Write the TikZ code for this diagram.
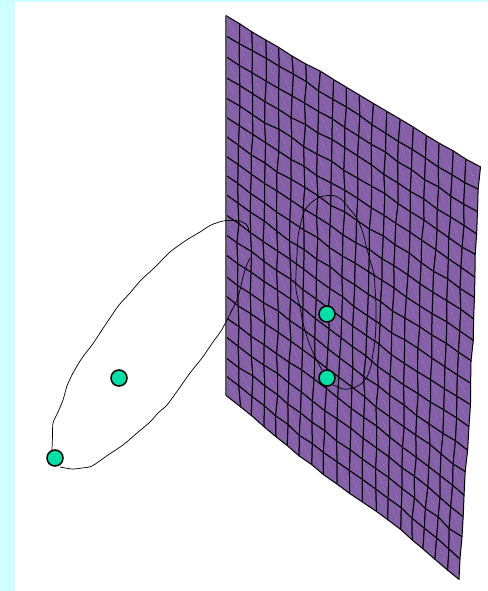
\documentclass[tikz,border=0pt]{standalone}
\usepackage{tikz}
\definecolor{pagecyan}{RGB}{204, 255, 255}
\definecolor{sheetpurple}{RGB}{133, 96, 168}
\definecolor{markgreen}{RGB}{0, 224, 168}

\begin{document}
\begin{tikzpicture}[
  x=1pt, y=-1pt,
  cell/.style={draw=black, line width=1pt, line join=round, fill=sheetpurple},
  crease/.style={draw=white, opacity=0.4, line width=0.5pt, dotted},
  loopline/.style={draw=black, line width=0.7pt},
  markpt/.style={circle, draw=black, fill=markgreen, line width=1.5pt, minimum size=16pt, inner sep=0pt}
]
  % page
  \fill[pagecyan] (0, 0) rectangle (487, 591);
  \fill[white] (15, 2) rectangle (487, 591);

  % sheet corners (226,16) (480,167) (226,396) (461,580)
  \pgfmathsetseed{4127}
  \foreach \r in {0,...,19} {
    \foreach \c in {0,...,19} {
      \pgfmathsetmacro{\u}{\c/19}
      \pgfmathsetmacro{\v}{\r/19}
      \pgfmathsetmacro{\ax}{\c==0 ? 0 : 0.9}
      \pgfmathsetmacro{\ay}{\r==0 ? 0.5 : 1.0}
      \pgfmathsetmacro{\wx}{\c==0 ? 0 : 1.5*sin(610*\u + 410*\v)*\v}
      \pgfmathsetmacro{\wy}{\r==0 ? 0 : 1.6*sin(540*\v - 350*\u)}
      \pgfmathsetmacro{\px}{226 + (254 - 19*\v)*\u + \wx + \ax*rand}
      \pgfmathsetmacro{\py}{16 + 380*\v + (151 + 33*\v)*\u + \wy + \ay*rand}
      \coordinate (p\r-\c) at (\px, \py);
    }
  }

  \foreach \r [evaluate=\r as \rn using int(\r+1)] in {0,...,18} {
    \foreach \c [evaluate=\c as \cn using int(\c+1)] in {0,...,18} {
      \path[cell] (p\r-\c) -- (p\r-\cn) -- (p\rn-\cn) -- (p\rn-\c) -- cycle;
      \path[crease] (p\r-\c) -- (p\rn-\cn);
    }
  }
  \draw[black!65, line width=1.2pt] (p0-0) -- (p19-0);

  % loop beside the sheet
  \path[loopline] plot[smooth, tension=0.45] coordinates {
    (52,450) (52.5,436) (53,423) (58,412) (63,400) (67,386) (73,373) (82,358) (92,345)
    (100,333) (110,318) (119,305) (130,293) (141,280) (152,270) (161,261) (170,252)
    (185,241) (200,232) (211,225) (223,221) (232,220.5) (240,221) (246,224) (248,227) (249,233)};
  \path[loopline] plot[smooth, tension=0.45] coordinates {
    (250,258) (246,267) (243,277) (240,290) (237,300) (232,310) (227,320) (221,331) (213,342)
    (202,358) (190,373) (178,390) (167,405) (158,413) (150,422) (137,433) (123,445)
    (108,455) (92,466) (82,468) (72,469) (60,467)};

  % loop on the sheet
  \path[loopline] plot[smooth, tension=0.45] coordinates {
    (322,370) (314,355) (308,340) (303,323) (300,307) (296,290) (296,273) (297,255) (298,237)
    (301,222) (305,210) (312,202) (320,197) (328,195.5) (335,196) (342,200) (348,207)
    (356,217) (362,230) (366,245) (370,260) (374,274) (375,287) (376,305) (376,323)
    (375,340) (373,353) (371,366) (367,377) (361,384) (353,388) (348,389) (343,389) (333,385)};

  \node[markpt] (ptA) at (119, 378) {};
  \node[markpt] (ptB) at (55, 458) {};
  \node[markpt] (ptC) at (327, 314) {};
  \node[markpt] (ptD) at (327, 378) {};
\end{tikzpicture}
\end{document}
